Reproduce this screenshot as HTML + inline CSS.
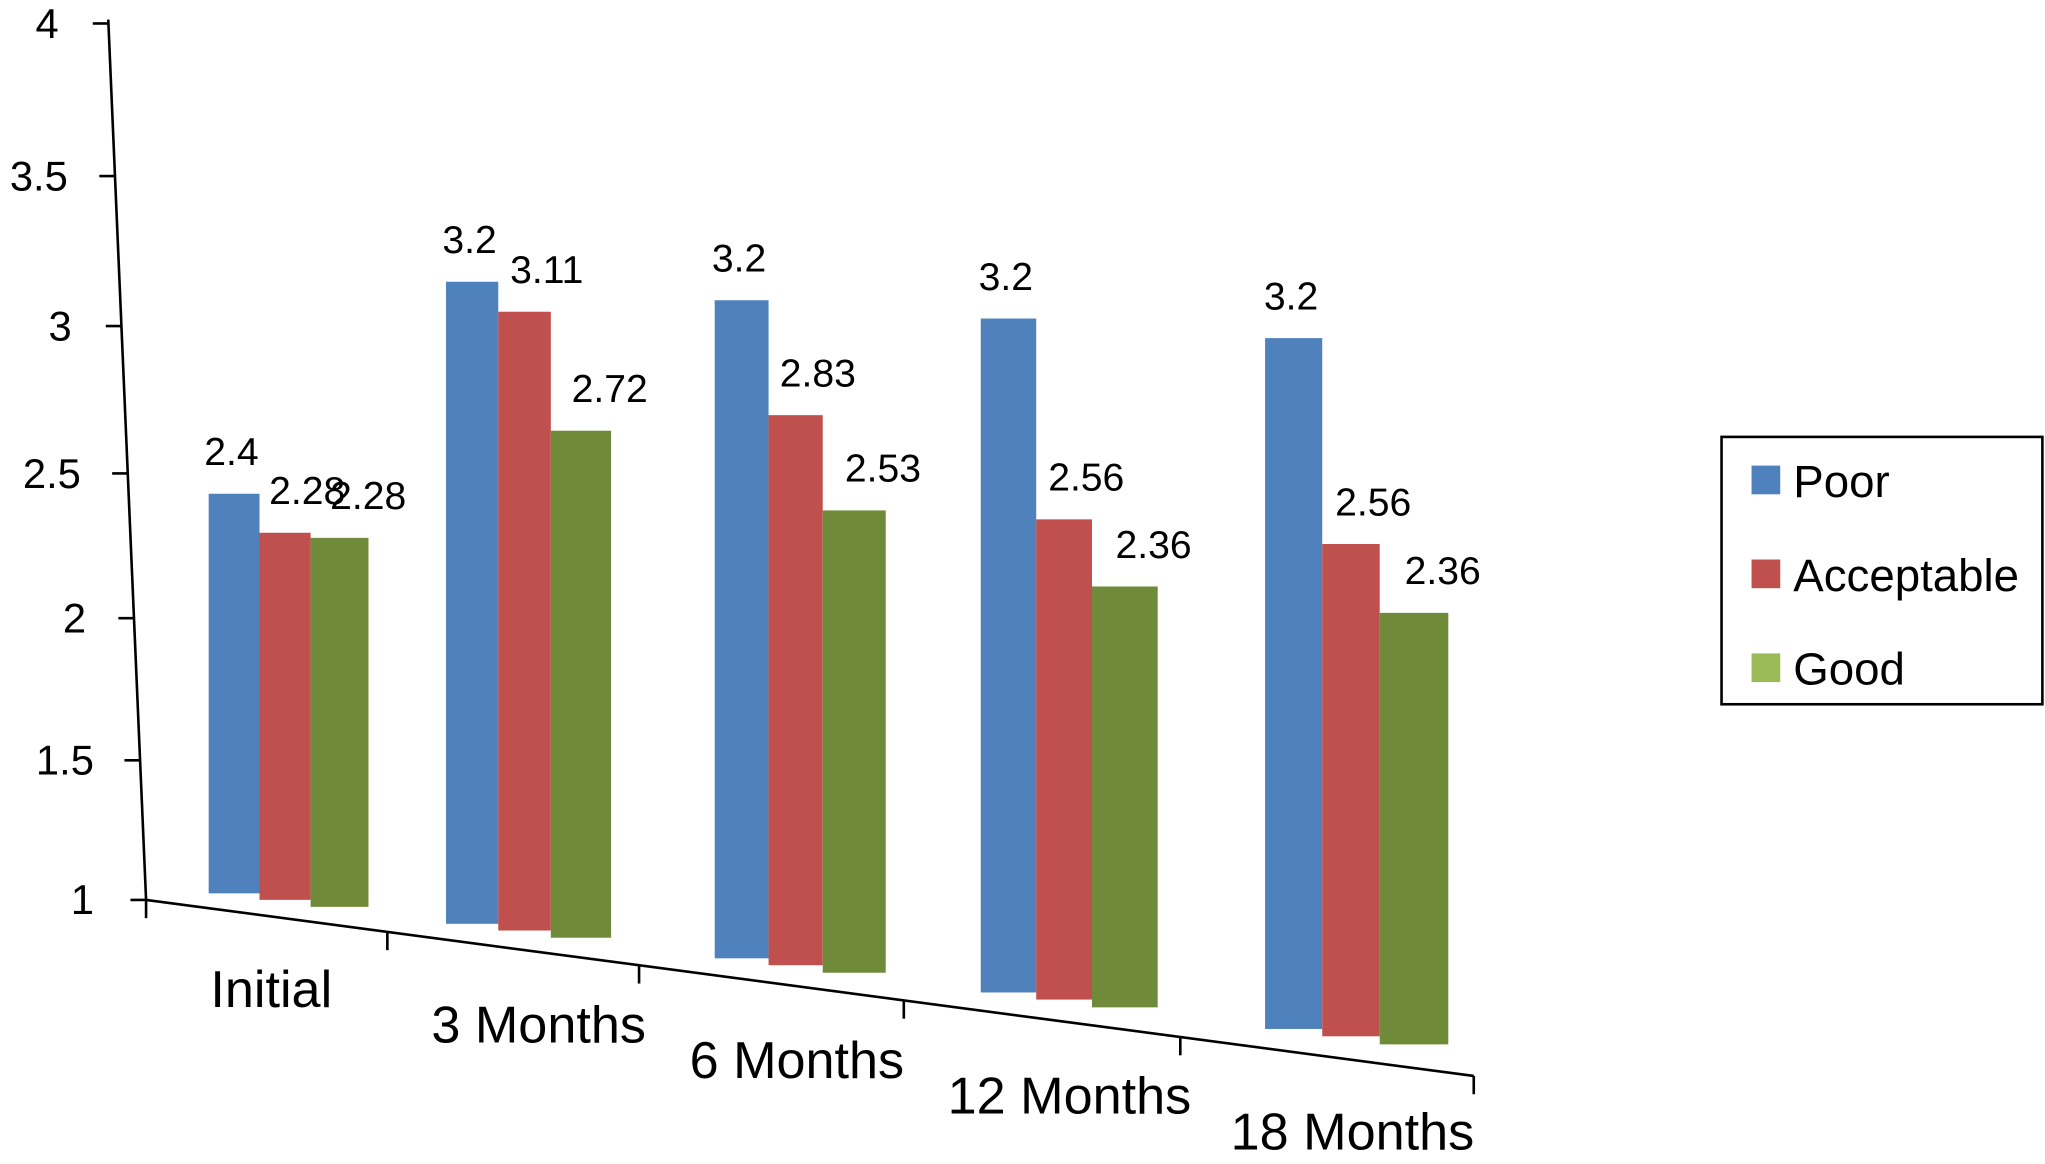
<!DOCTYPE html>
<html><head><meta charset="utf-8"><style>
html,body{margin:0;padding:0;background:#fff;}
svg{display:block;font-family:"Liberation Sans",Arial,sans-serif;}
</style></head><body>
<svg id="chart" width="2045" height="1164" viewBox="0 0 1568 892.5" xmlns="http://www.w3.org/2000/svg">
<g id="axes"></g>
<g id="bars"></g>
<g id="legend">
  <rect x="1320" y="335" width="246" height="205" fill="#fff" stroke="#000" stroke-width="2"/>
  <rect x="1343" y="357" width="22" height="22" fill="#4F81BD"/>
  <text x="1375" y="381" font-size="35">Poor</text>
  <rect x="1343" y="429" width="22" height="22" fill="#C0504D"/>
  <text x="1375" y="453" font-size="35">Acceptable</text>
  <rect x="1343" y="501" width="22" height="22" fill="#9BBB59"/>
  <text x="1375" y="525" font-size="35">Good</text>
</g>
</svg>
<script>
const categories = ["Initial", "3 Months", "6 Months", "12 Months", "18 Months"];
const poor = [2.4, 3.2, 3.2, 3.2, 3.2];
const acceptable = [2.28, 3.11, 2.83, 2.56, 2.56];
const good = [2.28, 2.72, 2.53, 2.36, 2.36];
const yTicks = [1, 1.5, 2, 2.5, 3, 3.5, 4];
const yTickLabels = ["1", "1.5", "2", "2.5", "3", "3.5", "4"];

const NS = "http://www.w3.org/2000/svg";
function mk(tag, attrs, parent, text) {
  const e = document.createElementNS(NS, tag);
  for (const k in attrs) e.setAttribute(k, attrs[k]);
  if (text !== undefined) e.textContent = text;
  parent.appendChild(e);
  return e;
}
// axis functions (perspective approximation)
function yAxisY(v) { const d = v - 1; return 690 - 212 * d - 4 * d * d; }
function yAxisX(y) { return 83 + (y - 15) * 0.043; }
function floorY(x) { return 662 + 0.128 * x; }
function unitScale(x) { return 214 + 0.027 * x; }
function barTop(x, v) { return floorY(x) - (v - 1) * unitScale(x); }
const groupStartX = [160, 342, 548, 752, 970];

const axes = document.getElementById('axes');
const barsG = document.getElementById('bars');

// y axis
const yl = mk('line', {x1: 83, y1: 15, x2: 112, y2: 690, stroke: '#000', 'stroke-width': 2}, axes);


const labelRight = [72, 72, 66, 62, 55, 52, 45];
yTicks.forEach((v, i) => {
  const y = yAxisY(v);
  const ax = yAxisX(y);
  const t = mk('line', {x1: ax - 12, y1: y, x2: ax, y2: y, stroke: '#000', 'stroke-width': 2}, axes);
  
  
  const lb = mk('text', {x: labelRight[i], y: y + 11, 'font-size': 32, 'text-anchor': 'end'}, axes, yTickLabels[i]);
  
  
});

// floor axis
const fl = mk('line', {x1: 112, y1: 690, x2: 1130, y2: 825, stroke: '#000', 'stroke-width': 2}, axes);


const floorTickX = [112, 297, 490, 693, 905, 1130];
floorTickX.forEach(x => {
  const y = 690 + (x - 112) * (135 / 1018);
  const t = mk('line', {x1: x, y1: y, x2: x, y2: y + 14, stroke: '#000', 'stroke-width': 2}, axes);
  
  
});
const catCenter = [208, 413, 611, 820, 1037];
categories.forEach((c, i) => {
  const t = mk('text', {x: catCenter[i], y: 772 + i * 27.3, 'font-size': 40, 'text-anchor': 'middle'}, axes, c);
  
  
});

// bars
const series = [
  {name: 'poor', vals: poor, color: '#4F81BD', lblOff: -2, wb: 38, wk: 0.006},
  {name: 'acceptable', vals: acceptable, color: '#C0504D', lblOff: 17, wb: 38, wk: 0.006},
  {name: 'good', vals: good, color: '#6F8B3A', lblOff: 22, wb: 42, wk: 0.01}
];
categories.forEach((c, i) => {
  let x = groupStartX[i];
  series.forEach((s) => {
    const w = s.wb + s.wk * x;
    const cx = x + w / 2;
    const bottom = floorY(cx);
    const top = barTop(cx, s.vals[i]);
    const r = mk('rect', {x: x, y: top, width: w, height: bottom - top, fill: s.color}, barsG);
    
    
    const t = mk('text', {x: cx + s.lblOff, y: top - 22, 'font-size': 30, 'text-anchor': 'middle'}, barsG, String(s.vals[i]));
    
    
    x += w;
  });
});
</script>
</body></html>
